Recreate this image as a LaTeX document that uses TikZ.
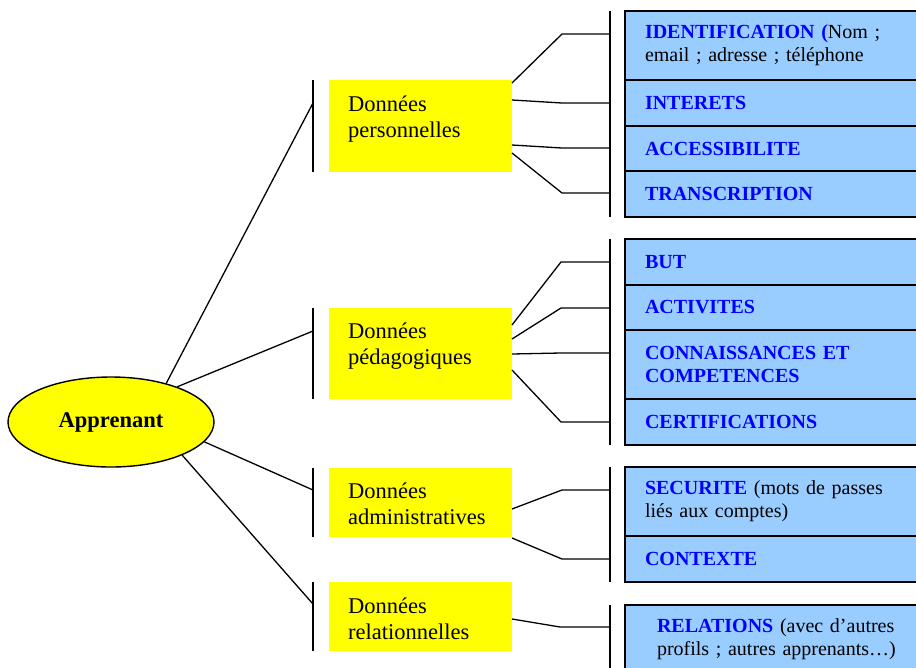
\documentclass[tikz,border=0pt]{standalone}
\usepackage{fontspec}
\setmainfont{Liberation Serif}
\usetikzlibrary{shapes.geometric,positioning}
\definecolor{catyellow}{HTML}{FFFF00}
\definecolor{rowblue}{HTML}{99CCFF}
\definecolor{keyblue}{HTML}{0000FF}
\newcommand{\bluebf}[1]{\textcolor{keyblue}{\textbf{#1}}}

\begin{document}
\begin{tikzpicture}[x=1pt, y=-1pt,
  root/.style={ellipse, draw, line width=1.4pt, fill=catyellow, minimum width=206pt,
    minimum height=90pt, inner sep=0pt, font=\fontsize{22.5}{26}\selectfont\bfseries},
  catbox/.style={fill=catyellow, minimum width=183pt, anchor=north west, inner sep=0pt, outer sep=0pt},
  cattext/.style={anchor=north west, align=left, inner sep=0pt, font=\fontsize{22.5}{26}\selectfont},
  rowbox/.style={draw, line width=1.3pt, fill=rowblue, anchor=north west, outer sep=0pt,
    inner xsep=20pt, text width=280pt, align=left, minimum height=#1, font=\fontsize{20}{23}\selectfont},
  rowbox/.default=46pt,
  bar/.style={line width=1.6pt},
  link/.style={line width=1.3pt},
]
\useasboundingbox (0,0) rectangle (916,667);

% root
\node [root] (appr) at (111,422) {Apprenant};

% categories
\node [catbox, minimum height=92pt] (perso) at (329,80) {};
\node [cattext] (perso_t) at ([shift={(19pt,-16pt)}]perso.north west) {Données\\personnelles};
\node [catbox, minimum height=91pt] (peda) at (329,308) {};
\node [cattext] (peda_t) at ([shift={(19pt,-15pt)}]peda.north west) {Données\\pédagogiques};
\node [catbox, minimum height=69pt] (admin) at (329,468) {};
\node [cattext] (admin_t) at ([shift={(19pt,-15pt)}]admin.north west) {Données\\administratives};
\node [catbox, minimum height=69pt] (rel) at (329,582) {};
\node [cattext] (rel_t) at ([shift={(19pt,-16pt)}]rel.north west) {Données\\relationnelles};

% profile rows
\node [rowbox=69pt] (ident) at (625,11) {\bluebf{IDENTIFICATION (}Nom ;\\email ; adresse ; téléphone};
\node [rowbox, below=0pt of ident] (inter) {\bluebf{INTERETS}};
\node [rowbox=45pt, below=0pt of inter] (acces) {\bluebf{ACCESSIBILITE}};
\node [rowbox, below=0pt of acces] (transc) {\bluebf{TRANSCRIPTION}};

\node [rowbox] (but) at (625,239) {\bluebf{BUT}};
\node [rowbox=45pt, below=0pt of but] (activ) {\bluebf{ACTIVITES}};
\node [rowbox=69pt, below=0pt of activ] (conn) {\bluebf{CONNAISSANCES ET}\\\bluebf{COMPETENCES}};
\node [rowbox, below=0pt of conn] (certif) {\bluebf{CERTIFICATIONS}};

\node [rowbox=69pt] (secu) at (625,467) {\bluebf{SECURITE} (mots de passes\\liés aux comptes)};
\node [rowbox, below=0pt of secu] (contx) {\bluebf{CONTEXTE}};

\node [rowbox=69pt, inner xsep=32pt, text width=268pt] (relat) at (625,605) {\bluebf{RELATIONS} (avec d’autres\\profils ; autres apprenants…)};

% bars
\draw [bar] ([xshift=-16pt]perso.north west) -- ([xshift=-16pt]perso.south west);
\draw [bar] ([xshift=-16pt]peda.north west) -- ([xshift=-16pt]peda.south west);
\draw [bar] ([xshift=-16pt]admin.north west) -- ([xshift=-16pt]admin.south west);
\draw [bar] ([xshift=-16pt]rel.north west) -- ([xshift=-16pt]rel.south west);
\draw [bar] ([xshift=-15pt]ident.north west) -- ([xshift=-15pt]transc.south west);
\draw [bar] ([xshift=-15pt]but.north west) -- ([xshift=-15pt]certif.south west);
\draw [bar] ([xshift=-15pt]secu.north west) -- ([xshift=-15pt]contx.south west);
\draw [bar] ([xshift=-15pt]relat.north west) -- ([xshift=-15pt]relat.south west);

% root to categories
\coordinate (b_perso) at (313,103);
\coordinate (b_peda) at (313,331);
\coordinate (b_admin) at (313,490);
\coordinate (b_rel) at (313,604);

\draw [link] (appr.35) -- (b_perso);
\draw [link] (appr.28) -- (b_peda);
\draw [link] (appr.-12) -- (b_admin);
\draw [link] (appr.-25) -- (b_rel);

% categories to rows
\coordinate (k_ident) at (610,34);
\coordinate (k_inter) at (610,103);
\coordinate (k_acces) at (610,148);
\coordinate (k_transc) at (610,193);
\coordinate (k_but) at (610,262);
\coordinate (k_activ) at (610,308);
\coordinate (k_conn) at (610,353);
\coordinate (k_certif) at (610,422);
\coordinate (k_secu) at (610,490);
\coordinate (k_contx) at (610,559);
\coordinate (k_relat) at (610,627);

\draw [link] ([yshift=-3pt]perso.north east) -- ([xshift=-48pt]k_ident) -- (k_ident);
\draw [link] ([yshift=-20pt]perso.north east) -- ([xshift=-48pt]k_inter) -- (k_inter);
\draw [link] ([yshift=-65pt]perso.north east) -- ([xshift=-48pt]k_acces) -- (k_acces);
\draw [link] ([yshift=-73pt]perso.north east) -- ([xshift=-48pt]k_transc) -- (k_transc);

\draw [link] ([yshift=-17pt]peda.north east) -- ([xshift=-49pt]k_but) -- (k_but);
\draw [link] ([yshift=-31pt]peda.north east) -- ([xshift=-49pt]k_activ) -- (k_activ);
\draw [link] ([yshift=-46pt]peda.north east) -- ([xshift=-49pt]k_conn) -- (k_conn);
\draw [link] ([yshift=-62pt]peda.north east) -- ([xshift=-49pt]k_certif) -- (k_certif);

\draw [link] ([yshift=-41pt]admin.north east) -- ([xshift=-48pt]k_secu) -- (k_secu);
\draw [link] ([yshift=-70pt]admin.north east) -- ([xshift=-48pt]k_contx) -- (k_contx);

\draw [link] ([yshift=-37pt]rel.north east) -- ([xshift=-50pt]k_relat) -- (k_relat);
\end{tikzpicture}
\end{document}
